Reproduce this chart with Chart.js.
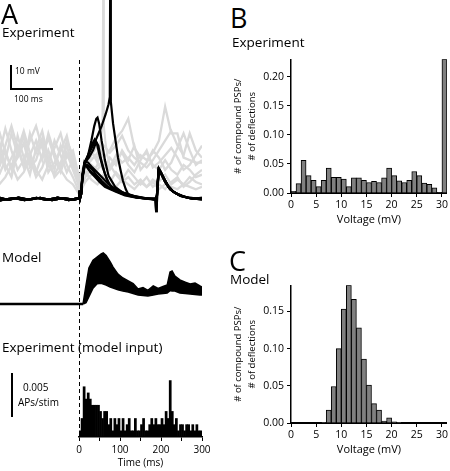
<!DOCTYPE html>
<html>
<head>
<meta charset="utf-8">
<script src="https://cdn.jsdelivr.net/npm/chart.js@4.4.1/dist/chart.umd.min.js"></script>
<style>
  html, body { margin: 0; padding: 0; background: #fff; overflow: hidden; }
  body { width: 450px; height: 471px; position: relative; font-family: "Open Sans", sans-serif; color: #000; }
  canvas { position: absolute; }
  .t { position: absolute; line-height: 1; white-space: nowrap; }
  .big { font-size: 27px; }
  .head { font-size: 13.5px; }
  .bar { position: absolute; background: #000; }
</style>
</head>
<body>
<canvas id="traces" width="202" height="440" style="left:0;top:0"></canvas>
<canvas id="psth" width="160" height="107" style="left:60px;top:364px"></canvas>
<canvas id="histB" width="225" height="177" style="left:225px;top:50px"></canvas>
<canvas id="histC" width="225" height="181" style="left:225px;top:276px"></canvas>

<div class="t big" style="left:1px;top:0px">A</div>
<div class="t head" style="left:2px;top:25.5px">Experiment</div>
<div class="bar" style="left:10px;top:65px;width:2px;height:25px"></div>
<div class="bar" style="left:10px;top:88px;width:43px;height:2px"></div>
<div class="t" style="left:15px;top:67px;font-size:8.5px">10 mV</div>
<div class="t" style="left:14px;top:95px;font-size:8.5px">100 ms</div>
<div class="t head" style="left:2px;top:250.5px">Model</div>
<div class="t head" style="left:2px;top:341px">Experiment (model input)</div>
<div class="bar" style="left:11px;top:373px;width:2px;height:44px"></div>
<div class="t" style="left:23px;top:381.5px;font-size:10px">0.005</div>
<div class="t" style="left:18px;top:396.5px;font-size:10px">APs/stim</div>
<div class="t big" style="left:230px;top:3.5px">B</div>
<div class="t head" style="left:232px;top:36px">Experiment</div>
<div class="t big" style="left:229px;top:247px">C</div>
<div class="t head" style="left:230px;top:272.5px">Model</div>

<script>
// ---------- data ----------

// B / C: fraction of compound PSPs per 1 mV voltage bin (0-1, 1-2, ... 29-30, last = 30+)
const expBins = [0.003, 0.016, 0.056, 0.030, 0.022, 0.011, 0.022, 0.043, 0.027, 0.027,
                 0.024, 0.011, 0.026, 0.026, 0.022, 0.018, 0.020, 0.018, 0.026, 0.043,
                 0.030, 0.021, 0.018, 0.022, 0.037, 0.030, 0.017, 0.015, 0.009, 0.001, 0.230];
const modelBins = [0, 0, 0, 0, 0, 0, 0.001, 0.0175, 0.049, 0.100,
                   0.153, 0.185, 0.166, 0.128, 0.086, 0.051, 0.026, 0.0175, 0.0026, 0.007,
                   0.0017, 0.001, 0, 0, 0, 0, 0, 0, 0, 0, 0];
const voltTicks = [0, 5, 10, 15, 20, 25, 30];

// A bottom: model input PSTH, APs/stim in 5 ms bins from 0 to 300 ms
const psthBinMs = 5;
const psth = [0.0007, 0.0021, 0.0057, 0.0043, 0.0050, 0.0043, 0.0036, 0.0036, 0.0036, 0.0036,
              0.0029, 0.0021, 0.0029, 0.0029, 0.0014, 0.0021, 0.0007, 0.0021, 0.0014, 0.0021,
              0.0007, 0.0021, 0.0007, 0.0014, 0.0021, 0.0007, 0.0007, 0.0021, 0.0007, 0.0007,
              0.0014, 0.0021, 0.0007, 0.0007, 0.0014, 0.0021, 0.0014, 0.0021, 0.0014, 0.0014,
              0.0021, 0.0014, 0.0029, 0.0021, 0.0064, 0.0029, 0.0014, 0.0021, 0.0007, 0.0014,
              0.0014, 0.0007, 0.0014, 0.0014, 0.0007, 0.0014, 0.0007, 0.0014, 0.0007, 0.0007];
const timeTicks = [0, 100, 200, 300];

// A top: experiment traces, mV above rest vs ms from stimulus
// gray (unaligned) traces sampled every 15 ms
const grayT = [-195, -180, -165, -150, -135, -120, -105, -90, -75, -60, -45, -30, -15, 0, 15, 30, 45,
               60, 75, 90, 105, 120, 135, 150, 165, 180, 195, 210, 225, 240, 255, 270, 285, 300];
const gray1 = [18, 29, 20, 12, 16, 24, 30, 21, 14, 10, 15, 22, 13, 6, 10, 14, 12, 16, 13, 18, 15, 17, 14, 18, 16, 19, 24, 38, 27, 27, 17, 16, 15, 15];
const gray2 = [10, 16, 27, 18, 26, 15, 11, 18, 25, 17, 11, 19, 12, 5, 12, 18, 22, 17, 20, 25, 28, 33, 21, 17, 19, 14, 12, 16, 12, 10, 14, 12, 9, 10];
const gray3 = [24, 14, 9, 20, 28, 19, 12, 8, 14, 24, 18, 11, 16, 8, 14, 20, 15, 12, 17, 14, 20, 16, 22, 12, 15, 20, 17, 12, 15, 21, 27, 20, 14, 16];
const gray4 = [6, 9, 14, 8, 11, 17, 9, 13, 20, 12, 22, 14, 9, 3, 9, 12, 8, 10, 7, 11, 8, 12, 9, 6, 9, 5, 7, 10, 6, 8, 6, 9, 7, 6];
const gray5 = [13, 20, 12, 26, 17, 10, 21, 28, 17, 9, 12, 8, 6, 2, 7, 10, 14, 14, 14, 10, 7, 9, 6, 8, 5, 7, 4, 6, 5, 4, 6, 5, 4, 5];
const gray6 = [20, 12, 17, 22, 14, 27, 19, 25, 16, 21, 27, 17, 20, 9, 15, 19, 17, 22, 19, 22, 26, 20, 17, 15, 13, 16, 20, 24, 28, 22, 18, 27, 20, 17];
const gray7 = [15, 22, 30, 21, 13, 18, 24, 16, 27, 19, 13, 24, 18, 7, 11, 8, 6, 9, 7, 5, 8, 6, 4, 7, 5, 8, 6, 4, 7, 9, 5, 7, 10, 12];
const gray8 = [28, 19, 13, 17, 23, 13, 16, 24, 11, 15, 20, 26, 15, 6, 13, 16, 19, 15, 12, 16, 19, 14, 11, 16, 20, 13, 15, 18, 21, 17, 12, 14, 18, 22];
const graySpike = [[45, 14], [50, 20], [54, 26], [57, 31], [59, 95], [60.5, 30], [64, 24], [69, 18], [75, 14]];

// black (stimulus-aligned) traces: [ms, mV] pieces
const expBaseA = [[-195, 0.5], [-172, -0.4], [-148, 0.6], [-121, -0.3], [-95, 0.5], [-66, -0.5], [-38, 0.4], [-12, -0.3], [0, 0.2], [1, 3.5], [2.5, 0.5]];
const expBaseB = [[-195, -0.6], [-160, 0.4], [-133, -0.5], [-104, 0.5], [-80, -0.4], [-52, 0.6], [-25, -0.5], [-4, 0.3], [0, 0], [1, 3], [2.5, 0.3]];
const expSpike = [[5, 2], [8, 9], [13, 15], [25, 19], [40, 24], [55, 30], [65, 35], [72, 39], [75, 42], [76, 95], [77.5, 40], [83, 31], [89, 24], [95, 17], [101, 12], [107, 7.5], [114, 4], [120, 2], [135, 0.8], [160, 0.2]];
const expEarly2 = [[5, 2], [8, 9], [14, 14.8], [22, 18], [30, 24], [37, 30], [42, 33], [45, 33.5], [49, 31], [55, 24], [63, 16], [72, 9.5], [88, 5], [105, 2.8], [125, 1.5], [150, 0.5], [170, 0.2]];
const expEarly3 = [[5, 2], [8, 8.5], [14, 14], [22, 18], [30, 22], [38, 24.5], [43, 23], [50, 18], [58, 13], [68, 8], [80, 4.5], [100, 2.5], [125, 1.2], [155, 0.3]];
const expEarly4 = [[5, 2], [8, 9.5], [14, 15], [24, 17], [34, 20], [42, 23.5], [47, 22], [54, 16], [62, 11], [72, 6.5], [88, 3.5], [110, 2], [140, 0.6], [165, 0]];
const expEarly5 = [[5, 2], [8, 10], [13, 15], [18, 13.5], [28, 11], [39, 9], [50, 7], [63, 5], [76, 4], [90, 3], [112, 1.5], [140, 0.6], [170, 0.2]];
const expEarly6 = [[5, 2], [8, 9], [14, 14.5], [20, 13], [30, 11], [40, 9.5], [52, 7.5], [65, 5.5], [80, 4], [100, 2.8], [125, 1.5], [155, 0.5], [178, 0]];
const expEarly7 = [[5, 2], [8, 8], [13, 13.5], [20, 14], [30, 12.5], [42, 10], [55, 7.5], [70, 5], [90, 3.2], [115, 1.8], [140, 0.8], [170, 0.2]];
const expEarly8 = [[5, 2], [9, 10], [15, 15.5], [22, 15], [32, 13], [44, 11], [58, 8.5], [72, 6], [90, 4], [112, 2.4], [135, 1.2], [165, 0.3]];
const expLateA = [[186, 0.2], [188, -5], [189.5, -4], [191, 4], [195, 12.5], [200, 11], [208, 8], [218, 5], [230, 3], [245, 1.5], [265, 0.6], [285, 0.3], [300, 0.5]];
const expLateB = [[186, 0], [190, 1], [194, 11.5], [199, 11], [207, 8.5], [217, 5.5], [230, 3], [248, 1.2], [270, 0.3], [300, -0.2]];
const expLateC = [[186, -0.3], [190, 1.5], [194, 12], [200, 10.5], [210, 7], [222, 4], [235, 2.5], [255, 1], [280, 0], [300, 0.3]];

// A middle: model traces (band envelope), mV vs ms
const modelRest = [[-195, 0], [10, 0]];
const modelT = [10, 17, 24, 34, 44, 54, 59, 66, 76, 83, 95, 107, 120, 132, 144, 156, 168, 181, 193, 205, 215, 222, 227, 234, 246, 259, 271, 283, 295, 300];
const modelUpper = [0.4, 7.8, 14.8, 18, 19.3, 20.6, 21, 20, 17.3, 15.2, 12.3, 10.7, 9.5, 8.4, 6.2, 6.8, 5.6, 7.4, 6.4, 7.2, 7.8, 13.2, 13.6, 11.5, 9.9, 9, 8.2, 8.6, 7.4, 7];
const modelLower = [0, 0.5, 3, 6.5, 8.3, 8.5, 8.2, 7.8, 7, 6.6, 5.8, 5.3, 4.9, 4.3, 3.7, 3.5, 3.3, 3.7, 4.1, 4.3, 4.5, 5.5, 5.3, 5.3, 4.5, 4.3, 4.1, 3.9, 3.7, 3.7];

// ---------- drawing ----------
const FONT = '"Open Sans", sans-serif';
const pts = a => a.map(p => ({ x: p[0], y: p[1] }));
const onGrid = (t, v) => v.map((y, i) => ({ x: t[i], y: y }));

const grayColor = '#dadada';
const grayTraces = [gray1, gray2, gray3, gray4, gray5, gray6, gray7, gray8].map(v => ({
  data: onGrid(grayT, v), yAxisID: 'yE', borderColor: grayColor, borderWidth: 2.3, order: 5
}));
grayTraces.push({ data: pts(graySpike), yAxisID: 'yE', borderColor: grayColor, borderWidth: 2, order: 5 });

const blackPieces = [
  [expBaseA, expSpike, expLateA], [expBaseB, expEarly2, expLateB],
  [expBaseA, expEarly3, expLateC], [expBaseB, expEarly4, expLateA],
  [expBaseA, expEarly5, expLateB], [expBaseB, expEarly6, expLateC],
  [expBaseA, expEarly7, expLateB], [expBaseB, expEarly8, expLateC]
];
const blackTraces = blackPieces.map(parts => ({
  data: pts([].concat(...parts)), yAxisID: 'yE', borderColor: '#000', borderWidth: 2.2, order: 1
}));

const modelSets = [
  { data: pts(modelRest), yAxisID: 'yM', borderColor: '#000', borderWidth: 2.5, order: 1 },
  { data: onGrid(modelT, modelUpper), yAxisID: 'yM', borderColor: '#000', borderWidth: 1.5, order: 1 },
  { data: onGrid(modelT, modelLower), yAxisID: 'yM', borderColor: '#000', borderWidth: 1.5, order: 1,
    fill: '-1', backgroundColor: '#000' }
];

// dashed stimulus line through all of panel A
const stimLine = {
  id: 'stimLine',
  beforeDatasetsDraw(chart) {
    const c = chart.ctx;
    const x = Math.round(chart.scales.x.getPixelForValue(0)) + 0.5;
    c.save();
    c.strokeStyle = '#000';
    c.lineWidth = 1;
    c.setLineDash([4, 3]);
    c.beginPath();
    c.moveTo(x, 60);
    c.lineTo(x, 437);
    c.stroke();
    c.restore();
  }
};

new Chart(document.getElementById('traces'), {
  type: 'line',
  data: { datasets: grayTraces.concat(blackTraces, modelSets) },
  options: {
    responsive: false, animation: false, devicePixelRatio: 1,
    layout: { padding: 0 },
    elements: { point: { radius: 0 }, line: { tension: 0 } },
    plugins: { legend: { display: false }, tooltip: { enabled: false } },
    scales: {
      x: { type: 'linear', min: -193, max: 300, display: false },
      yE: { type: 'linear', min: -99.18, max: 81.89, display: false },
      yM: { type: 'linear', min: -55.97, max: 125.1, display: false }
    }
  },
  plugins: [stimLine]
});

const axisBlack = { display: true, color: '#000', width: 1.5 };
const tickGrid = { drawOnChartArea: false, drawTicks: true, tickLength: 4, color: '#000', lineWidth: 1, offset: false };

new Chart(document.getElementById('psth'), {
  type: 'bar',
  data: {
    datasets: [{
      data: psth.map((v, i) => ({ x: (i + 0.5) * psthBinMs, y: v })),
      backgroundColor: '#000', borderWidth: 0, barPercentage: 1, categoryPercentage: 1
    }]
  },
  options: {
    responsive: false, animation: false, devicePixelRatio: 1,
    layout: { padding: { left: 19, right: 18, top: 6, bottom: 0 } },
    plugins: { legend: { display: false }, tooltip: { enabled: false } },
    scales: {
      x: {
        type: 'linear', min: 0, max: 300, offset: false,
        grid: tickGrid, border: axisBlack,
        ticks: {
          stepSize: 50, color: '#000', padding: 3, maxRotation: 0, autoSkip: false,
          font: { family: FONT, size: 10 },
          callback: v => timeTicks.includes(v) ? String(v) : ''
        },
        title: { display: true, text: 'Time (ms)', color: '#000', font: { family: FONT, size: 10 }, padding: { top: 0, bottom: 2 } },
        afterFit: s => { s.height = 34; }
      },
      y: { min: 0, max: 0.0076, display: false }
    }
  }
});

function histogram(id, bins, yMax, yTicks) {
  return new Chart(document.getElementById(id), {
    type: 'bar',
    data: {
      datasets: [{
        data: bins.map((v, i) => ({ x: i + 0.5, y: v })),
        backgroundColor: '#808080', borderColor: '#000', borderWidth: 1,
        barPercentage: 1, categoryPercentage: 1
      }]
    },
    options: {
      responsive: false, animation: false, devicePixelRatio: 1,
      layout: { padding: { left: 0, right: 2, top: 6, bottom: 0 } },
      plugins: { legend: { display: false }, tooltip: { enabled: false } },
      scales: {
        x: {
          type: 'linear', min: 0, max: 31, offset: false,
          grid: tickGrid, border: { display: true, color: '#000', width: 2 },
          afterBuildTicks: s => { s.ticks = voltTicks.map(v => ({ value: v })); },
          ticks: { color: '#000', padding: 2, maxRotation: 0, autoSkip: false, font: { family: FONT, size: 10.5 } },
          title: { display: true, text: 'Voltage (mV)', color: '#000', font: { family: FONT, size: 11 }, padding: { top: 0, bottom: 1 } },
          afterFit: s => { s.height = 34; }
        },
        y: {
          min: 0, max: yMax,
          grid: tickGrid, border: axisBlack,
          afterBuildTicks: s => { s.ticks = yTicks.map(v => ({ value: v })); },
          ticks: { color: '#000', padding: 3, font: { family: FONT, size: 10.5 }, callback: v => v.toFixed(2) },
          title: {
            display: true, text: ['# of compound PSPs/', '# of deflections'], color: '#000',
            font: { family: FONT, size: 9.5, lineHeight: 1.4 }, padding: { top: 7, bottom: 0 }
          },
          afterFit: s => { s.width = 66; }
        }
      }
    }
  });
}

histogram('histB', expBins, 0.23, [0, 0.05, 0.10, 0.15, 0.20]);
histogram('histC', modelBins, 0.185, [0, 0.05, 0.10, 0.15]);
</script>
</body>
</html>
